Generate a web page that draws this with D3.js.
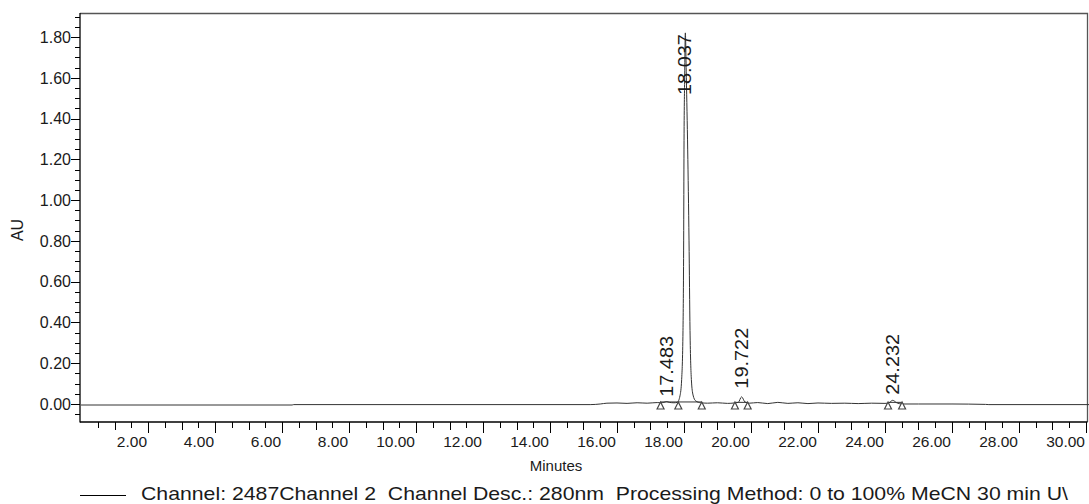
<!DOCTYPE html>
<html>
<head>
<meta charset="utf-8">
<script src="https://cdn.jsdelivr.net/npm/d3@7"></script>
<style>
  body { margin: 0; background: #fff; }
  svg { display: block; font-family: "Liberation Sans", Arial, sans-serif; }
  text { fill: #1a1a1a; }
</style>
</head>
<body>
<svg id="chart"></svg>
<script>
// Chromatogram trace (minutes, AU)
const traceTime = [0, 6.3, 6.35, 15.2, 15.5, 15.7, 16.0, 16.3, 16.6, 16.9, 17.2, 17.3, 17.4, 17.48, 17.56, 17.7,
    17.80, 17.88, 17.93, 17.97, 17.99, 18.00, 18.02, 18.04, 18.07, 18.11, 18.15, 18.18, 18.22, 18.27, 18.35,
    18.5, 18.7, 19.0, 19.3, 19.5, 19.62, 19.72, 19.82, 19.95, 20.2, 20.5, 20.8, 21.1, 21.4, 21.7, 22.0,
    22.4, 22.8, 23.2, 23.6, 24.0, 24.12, 24.23, 24.35, 24.5, 25.0, 26.0, 27.0, 27.1, 30.1];
const traceAu = [-0.005, -0.005, -0.003, -0.003, 0.0, 0.004, 0.005, 0.003, 0.006, 0.004, 0.007, 0.006, 0.008, 0.012, 0.008, 0.006,
    0.008, 0.04, 0.12, 0.36, 0.80, 1.25, 1.60, 1.82, 1.60, 1.25, 0.80, 0.36, 0.12, 0.044, 0.015,
    0.006, 0.004, 0.006, 0.003, 0.005, 0.008, 0.035, 0.01, 0.004, 0.007, 0.002, 0.008, 0.003, 0.006, 0.002, 0.005,
    0.003, 0.004, 0.002, 0.004, 0.003, 0.006, 0.018, 0.006, 0.0, 0.0, 0.0, -0.002, -0.003, -0.003];

// Integrated peaks
const peakNames = ['17.483', '18.037', '19.722', '24.232'];
const peakTimes = [17.483, 18.037, 19.722, 24.232];
const peakLabelAu = [0.035, 1.515, 0.075, 0.045];   // where each rotated label starts

// Peak start / end markers and the integration baselines between them
const markerTimes = [17.30, 17.83, 18.53, 19.52, 19.90, 24.09, 24.51];
const baseStart = [17.30, 17.83, 19.52, 24.09];
const baseEnd = [17.83, 18.53, 19.90, 24.51];
const baseAu = [0.01, 0.01, 0.008, 0.008];

const yTickValues = [0, 0.2, 0.4, 0.6, 0.8, 1.0, 1.2, 1.4, 1.6, 1.8];
const xTickValues = [2, 4, 6, 8, 10, 12, 14, 16, 18, 20, 22, 24, 26, 28, 30];
const legendText = 'Channel: 2487Channel 2  Channel Desc.: 280nm  Processing Method: 0 to 100% MeCN 30 min U\\';

function drawChart() {
    const width = 1089, height = 504;
    const plot = { left: 80, right: 1087, top: 13, bottom: 422 };

    const svg = d3.select('#chart')
        .attr('width', width)
        .attr('height', height);

    const x = d3.scaleLinear().domain([-0.03, 30.03]).range([plot.left, plot.right]);
    const y = d3.scaleLinear().domain([-0.0883, 1.9176]).range([plot.bottom, plot.top]);

    // frame (top and right in grey)
    svg.append('path')
        .attr('d', `M${plot.left},${plot.top + 0.5}H${plot.right + 0.5}V${plot.bottom}`)
        .attr('fill', 'none')
        .attr('stroke', '#555')
        .attr('stroke-width', 1.3);

    // y axis
    const yMinor = d3.range(-0.05, 1.91, 0.05).map(v => +v.toFixed(2));
    const yAxis = svg.append('g').attr('transform', `translate(${plot.left},0)`);
    yAxis.append('line')
        .attr('y1', plot.top).attr('y2', plot.bottom + 0.5)
        .attr('stroke', '#000').attr('stroke-width', 1.3);
    yAxis.selectAll('.ymin').data(yMinor).join('line')
        .attr('x1', -5).attr('x2', 0)
        .attr('y1', d => Math.round(y(d)) + 0.5).attr('y2', d => Math.round(y(d)) + 0.5)
        .attr('stroke', '#000');
    yAxis.selectAll('.ymaj').data(yTickValues).join('line')
        .attr('x1', -9).attr('x2', 0)
        .attr('y1', d => Math.round(y(d)) + 0.5).attr('y2', d => Math.round(y(d)) + 0.5)
        .attr('stroke', '#000');
    yAxis.selectAll('text').data(yTickValues).join('text')
        .attr('x', -9)
        .attr('y', d => y(d))
        .attr('dy', '0.36em')
        .attr('text-anchor', 'end')
        .style('font-size', '16px')
        .text(d => d.toFixed(2));

    svg.append('text')
        .attr('transform', `translate(23,230) rotate(-90)`)
        .attr('text-anchor', 'middle')
        .style('font-size', '16px')
        .text('AU');

    // x axis
    const xMinor = d3.range(0.5, 30.01, 0.5).map(v => +v.toFixed(1));
    const xAxis = svg.append('g').attr('transform', `translate(0,${plot.bottom})`);
    xAxis.append('line')
        .attr('x1', plot.left).attr('x2', plot.right + 0.5)
        .attr('stroke', '#000').attr('stroke-width', 1.3);
    xAxis.selectAll('.xmin').data(xMinor).join('line')
        .attr('x1', d => Math.round(x(d)) + 0.5).attr('x2', d => Math.round(x(d)) + 0.5)
        .attr('y1', 0)
        .attr('y2', d => d % 2 === 0 ? 11 : (d % 1 === 0 ? 8 : 6))
        .attr('stroke', '#000');
    xAxis.selectAll('text').data(xTickValues).join('text')
        .attr('x', d => x(d) - 1)
        .attr('y', 25)
        .attr('text-anchor', 'end')
        .style('font-size', '15.5px')
        .text(d => d.toFixed(2));

    svg.append('text')
        .attr('x', 556)
        .attr('y', 471)
        .attr('text-anchor', 'middle')
        .style('font-size', '15px')
        .text('Minutes');

    // trace
    const trace = traceTime.map((t, i) => ({ t, v: traceAu[i] }));
    const line = d3.line()
        .x(d => x(d.t))
        .y(d => y(d.v))
        .curve(d3.curveMonotoneX);

    svg.append('path')
        .datum(trace)
        .attr('fill', 'none')
        .attr('stroke', '#333')
        .attr('stroke-width', 1)
        .attr('d', line);

    // integration baselines
    svg.selectAll('.base').data(baseStart).join('line')
        .attr('x1', d => x(d))
        .attr('x2', (d, i) => x(baseEnd[i]))
        .attr('y1', (d, i) => y(baseAu[i]))
        .attr('y2', (d, i) => y(baseAu[i]))
        .attr('stroke', '#333')
        .attr('stroke-width', 1);

    // peak start/end triangles
    svg.selectAll('.marker').data(markerTimes).join('path')
        .attr('transform', d => `translate(${x(d)},${y(0) + 1})`)
        .attr('d', 'M-3.5,4L0,-3L3.5,4Z')
        .attr('fill', '#fff')
        .attr('stroke', '#444')
        .attr('stroke-width', 1.2);

    // peak labels, rotated
    svg.selectAll('.plabel').data(peakNames).join('text')
        .attr('transform', (d, i) => `translate(${x(peakTimes[i]) + 6},${y(peakLabelAu[i])}) rotate(-90)`)
        .attr('text-anchor', 'start')
        .attr('textLength', 61)
        .attr('lengthAdjust', 'spacingAndGlyphs')
        .style('font-size', '18px')
        .text(d => d);

    // legend
    svg.append('line')
        .attr('x1', 80).attr('x2', 126)
        .attr('y1', 495.5).attr('y2', 495.5)
        .attr('stroke', '#000');
    svg.append('text')
        .attr('x', 141)
        .attr('y', 500)
        .attr('textLength', 927)
        .attr('lengthAdjust', 'spacingAndGlyphs')
        .style('font-size', '19px')
        .style('white-space', 'pre')
        .text(legendText);
}

document.addEventListener('DOMContentLoaded', drawChart);
</script>
</body>
</html>
